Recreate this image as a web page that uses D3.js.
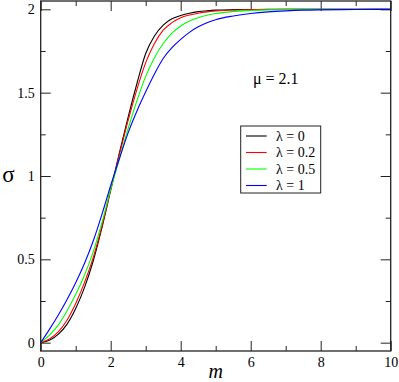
<!DOCTYPE html>
<html>
<head>
<meta charset="utf-8">
<script src="https://cdn.jsdelivr.net/npm/d3@7"></script>
<style>
  body { margin: 0; background: #fff; }
  svg text { font-family: "Liberation Serif", "Times New Roman", Times, "DejaVu Serif", serif !important; }
</style>
</head>
<body>
<div id="chart"></div>
<script>
// values
const mValues = [0, 0.25, 0.5, 0.75, 1, 1.25, 1.5, 1.75, 2, 2.25, 2.5, 2.75, 3, 3.25, 3.5, 3.75, 4, 4.25, 4.5, 4.75, 5, 5.5, 6, 6.5, 7, 7.5, 8, 9, 10];
const sigmaL0  = [0, 0.015, 0.05, 0.11, 0.205, 0.33, 0.49, 0.69, 0.915, 1.14, 1.355, 1.555, 1.735, 1.84, 1.905, 1.943, 1.963, 1.977, 1.986, 1.991, 1.995, 1.998, 1.999, 2, 2, 2, 2, 2, 2];
const sigmaL02 = [0, 0.022, 0.065, 0.135, 0.235, 0.36, 0.51, 0.70, 0.92, 1.13, 1.335, 1.52, 1.68, 1.795, 1.875, 1.92, 1.95, 1.966, 1.977, 1.985, 1.99, 1.996, 1.998, 1.999, 2, 2, 2, 2, 2];
const sigmaL05 = [0, 0.045, 0.105, 0.19, 0.29, 0.405, 0.545, 0.72, 0.92, 1.105, 1.285, 1.452, 1.598, 1.71, 1.795, 1.857, 1.9, 1.93, 1.95, 1.964, 1.975, 1.987, 1.993, 1.997, 1.999, 2, 2, 2, 2];
const sigmaL1  = [0, 0.08, 0.165, 0.258, 0.36, 0.475, 0.61, 0.77, 0.943, 1.105, 1.26, 1.39, 1.505, 1.612, 1.705, 1.77, 1.82, 1.862, 1.895, 1.92, 1.938, 1.96, 1.975, 1.985, 1.991, 1.995, 1.997, 1.999, 2];

const seriesNames = ["\u03bb = 0", "\u03bb = 0.2", "\u03bb = 0.5", "\u03bb = 1"];
const seriesColors = ["#000000", "#ff0000", "#00ff00", "#0000ff"];
const seriesValues = [sigmaL0, sigmaL02, sigmaL05, sigmaL1];

const xMajor = [0, 2, 4, 6, 8, 10];
const xMinor = [1, 3, 5, 7, 9];
const yMajor = [0, 0.5, 1, 1.5, 2];
const yMinor = [0.25, 0.75, 1.25, 1.75];

const width = 399, height = 382;
const plotLeft = 40.7, plotRight = 390.7, plotTop = 1, plotBottom = 351;
const serif = "'Liberation Serif', 'Times New Roman', Times, 'DejaVu Serif', serif";

const svg = d3.select("#chart")
    .append("svg")
    .attr("width", width)
    .attr("height", height);

const x = d3.scaleLinear().domain([0, 10]).range([plotLeft, plotRight]);
const y = d3.scaleLinear().domain([-0.05, 2.05]).range([plotBottom, plotTop]);

// ticks on all four sides, pointing in
function ticks(axis, pos, vals, size, labels) {
    const g = svg.append("g")
        .attr("transform", pos)
        .call(axis.tickValues(vals).tickSize(-size).tickPadding(6)
            .tickFormat(labels ? (d => d) : ""));
    g.attr("font-family", serif).attr("font-size", 14);
    g.select(".domain").remove();
    g.selectAll("line").attr("stroke", "#222").attr("stroke-width", 1);
    g.selectAll("text").style("font-family", serif).style("font-size", "14px").attr("fill", "#000");
    return g;
}

ticks(d3.axisBottom(x), `translate(0,${plotBottom})`, xMajor, 10, true);
ticks(d3.axisBottom(x), `translate(0,${plotBottom})`, xMinor, 5, false);
ticks(d3.axisTop(x), `translate(0,${plotTop})`, xMajor, 10, false);
ticks(d3.axisTop(x), `translate(0,${plotTop})`, xMinor, 5, false);
ticks(d3.axisLeft(y), `translate(${plotLeft},0)`, yMajor, 10, true);
ticks(d3.axisLeft(y), `translate(${plotLeft},0)`, yMinor, 5, false);
ticks(d3.axisRight(y), `translate(${plotRight},0)`, yMajor, 10, false);
ticks(d3.axisRight(y), `translate(${plotRight},0)`, yMinor, 5, false);

// curves
const line = d3.line()
    .x((d, i) => x(mValues[i]))
    .y(d => y(d))
    .curve(d3.curveMonotoneX);

svg.append("g")
    .selectAll("path")
    .data(seriesValues)
    .enter()
    .append("path")
    .attr("d", d => line(d))
    .attr("fill", "none")
    .attr("stroke", (d, i) => seriesColors[i])
    .attr("stroke-width", 1.1);

// frame
svg.append("rect")
    .attr("x", plotLeft)
    .attr("y", plotTop)
    .attr("width", plotRight - plotLeft)
    .attr("height", plotBottom - plotTop)
    .attr("fill", "none")
    .attr("stroke", "#222")
    .attr("stroke-width", 1.3);

// axis labels
svg.append("text")
    .attr("x", 8.5)
    .attr("y", 182)
    .attr("text-anchor", "middle")
    .style("font-family", serif)
    .style("font-size", "23px")
    .text("\u03c3");

svg.append("text")
    .attr("x", (plotLeft + plotRight) / 2)
    .attr("y", 377.5)
    .attr("text-anchor", "middle")
    .style("font-family", serif)
    .style("font-size", "20px")
    .style("font-style", "italic")
    .text("m");

svg.append("text")
    .attr("x", 253)
    .attr("y", 83.5)
    .style("font-family", serif)
    .style("font-size", "16px")
    .text("\u03bc = 2.1");

// legend
const legend = svg.append("g");
legend.append("rect")
    .attr("x", 240.7)
    .attr("y", 126)
    .attr("width", 80)
    .attr("height", 67)
    .attr("fill", "#fff")
    .attr("stroke", "#222")
    .attr("stroke-width", 1);

const rows = legend.selectAll(".row")
    .data(seriesNames)
    .enter()
    .append("g")
    .attr("class", "row")
    .attr("transform", (d, i) => `translate(0,${136 + i * 16.5})`);

rows.append("line")
    .attr("x1", 246)
    .attr("x2", 266.7)
    .attr("stroke", (d, i) => seriesColors[i])
    .attr("stroke-width", 1.1);

rows.append("text")
    .attr("x", 276)
    .attr("dy", "0.35em")
    .style("font-family", serif)
    .style("font-size", "14px")
    .text(d => d);
</script>
</body>
</html>
